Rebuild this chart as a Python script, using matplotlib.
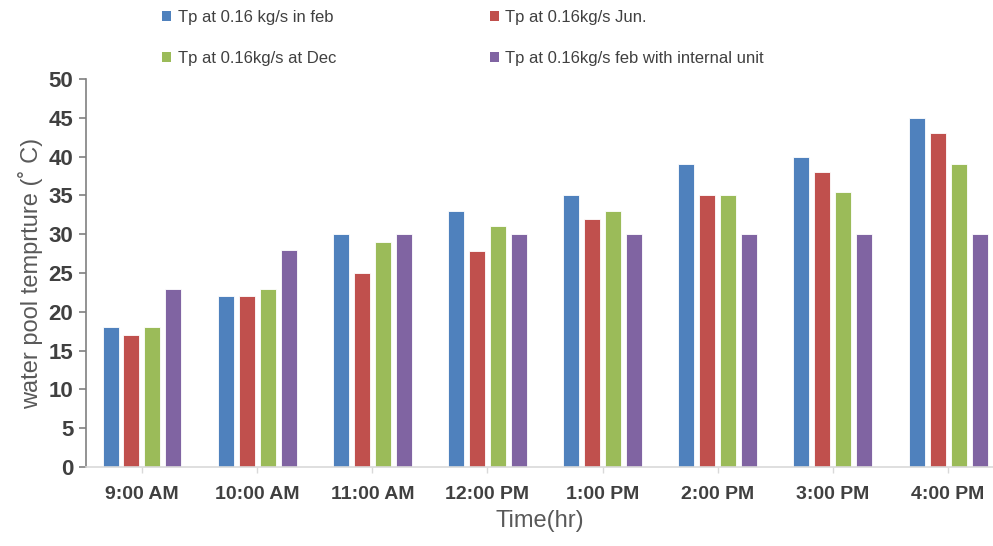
import matplotlib.pyplot as plt
import numpy as np
from matplotlib.patches import Patch

# Data
times = ["9:00 AM", "10:00 AM", "11:00 AM", "12:00 PM", "1:00 PM", "2:00 PM", "3:00 PM", "4:00 PM"]
feb = [18, 22, 30, 33, 35, 39, 40, 45]
jun = [17, 22, 25, 27.8, 32, 35, 38, 43]
dec = [18, 23, 29, 31, 33, 35, 35.5, 39]
feb_internal = [23, 28, 30, 30, 30, 30, 30, 30]

labels = ["Tp at 0.16 kg/s in feb", "Tp at 0.16kg/s Jun.",
          "Tp at 0.16kg/s at Dec", "Tp at 0.16kg/s feb with internal unit"]
colors = ["#4F81BD", "#C0504D", "#9BBB59", "#8064A2"]

plt.rcParams['font.family'] = ['Liberation Sans', 'DejaVu Sans']

fig = plt.figure(figsize=(9.93, 5.46), dpi=100)
ax = fig.add_axes([0.0866, 0.1447, 0.9134, 0.7106])

x = np.arange(len(times))
width = 0.139
pitch = 0.182
series = [feb, jun, dec, feb_internal]
for i, (vals, c) in enumerate(zip(series, colors)):
    ax.bar(x + (i - 1.5) * pitch, vals, width, color=c, edgecolor="white", linewidth=0.6)

ax.set_xlim(-0.486, 7.39)
ax.set_ylim(0, 50)
ax.set_yticks(np.arange(0, 51, 5))
ax.set_xticks(x)
ax.set_xticklabels(times)

for s in ["top", "right"]:
    ax.spines[s].set_visible(False)
ax.spines["left"].set_color("#808080")
ax.spines["bottom"].set_color("#d9d9d9")
ax.spines["left"].set_linewidth(1.2)
ax.spines["bottom"].set_linewidth(1.2)

ax.tick_params(axis="y", colors="#808080", length=5, width=1.2, labelsize=16,
               labelcolor="#404040", pad=4)
ax.tick_params(axis="x", colors="#d9d9d9", length=4, width=1, labelsize=14,
               labelcolor="#404040", pad=10)
for lbl in ax.get_yticklabels() + ax.get_xticklabels():
    lbl.set_fontweight("bold")

ax.set_ylabel("water pool temprture (˚ C)", fontsize=17, color="#595959", labelpad=4)
ax.set_xlabel("Time(hr)", fontsize=17, color="#595959", labelpad=5)

# legend fills column-first, so order the entries to read row by row
order = [0, 2, 1, 3]
handles = [Patch(facecolor=colors[i], edgecolor="none") for i in order]
fig.legend(handles, [labels[i] for i in order], loc="upper left",
           bbox_to_anchor=(0.148, 1.01), ncol=2, frameon=False, fontsize=12,
           labelcolor="#404040", handlelength=0.55, handleheight=0.55,
           handletextpad=0.4, columnspacing=9.2, labelspacing=1.6)

fig.savefig("out.png", dpi=100)
